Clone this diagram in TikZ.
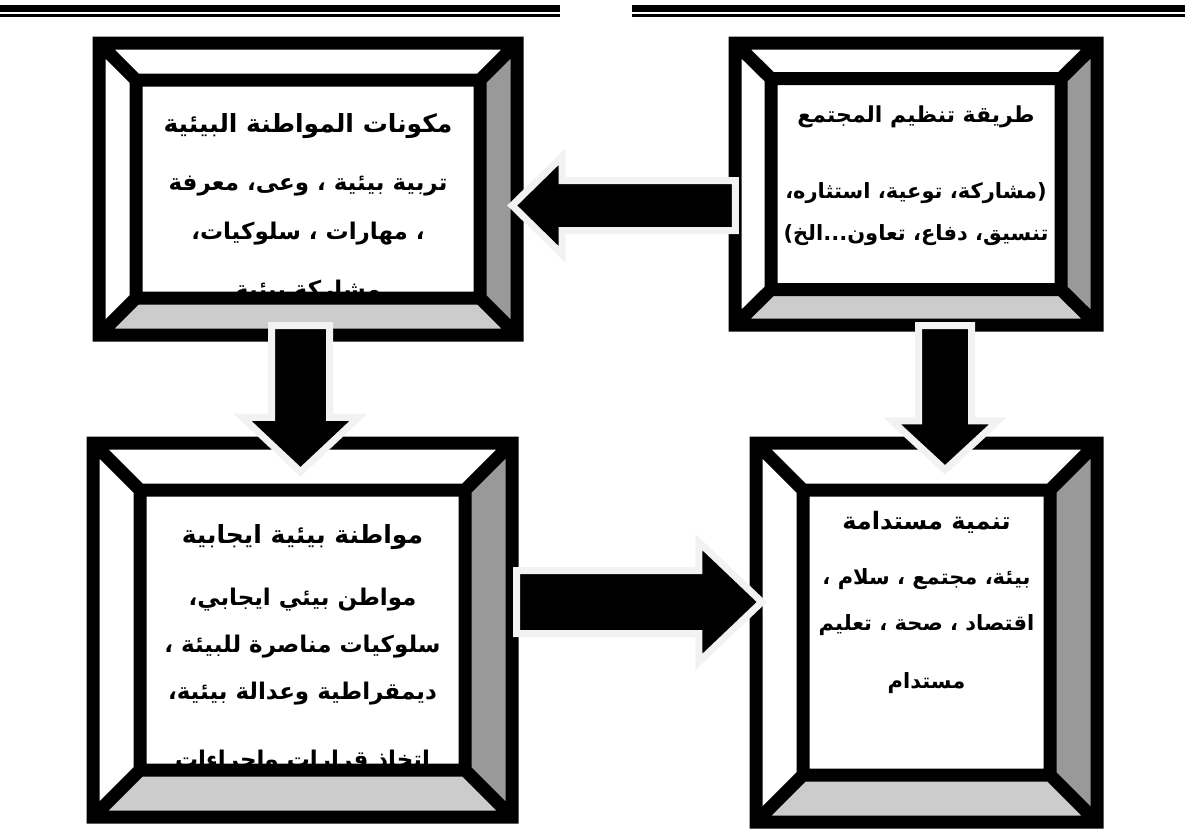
\documentclass[tikz,border=0pt]{standalone}
\usepackage{fontspec}
\newfontfamily\arabicfont[Script=Arabic]{DejaVu Sans}
\TeXXeTstate=1
\usetikzlibrary{calc,fit}

\tikzset{
  frameline/.style={line width=13pt, line join=miter},
  facetdark/.style={fill=black!40},
  facetpale/.style={fill=black!20},
  boxtext/.style 2 args={align=center, inner sep=0pt, anchor=north,
    font=\arabicfont\bfseries\fontsize{#1}{#2}\selectfont},
  arrowshadow/.style={fill=black!25, transform canvas={shift={(2pt,-2pt)}}},
  arrowbody/.style={fill=black, draw=black!5, line width=7pt, line join=miter},
  headrule/.style={line width=#1},
}

\newcommand{\heading}[2][25]{{\fontsize{#1}{#1}\selectfont\beginR #2\endR}}
\newcommand{\rl}[1]{\beginR #1\endR}

% bevelled frame: name, outer top left, outer bottom right, bevel x, bevel y
\newcommand{\bevelframe}[5]{%
  \coordinate (#1a) at (#2);
  \coordinate (#1b) at (#3);
  \coordinate (#1c) at ($(#1a)+(#4,#5)$);
  \coordinate (#1d) at ($(#1b)-(#4,#5)$);
  \fill[white] (#1a) rectangle (#1b);
  \fill[facetdark] (#1a -| #1b) -- (#1b) -- (#1d) -- (#1c -| #1d) -- cycle;
  \fill[facetpale] (#1a |- #1b) -- (#1b) -- (#1d) -- (#1c |- #1d) -- cycle;
  \draw[frameline] (#1a) rectangle (#1b) (#1c) rectangle (#1d)
    (#1a) -- (#1c) (#1b) -- (#1d) (#1a -| #1b) -- (#1c -| #1d) (#1a |- #1b) -- (#1c |- #1d);
  \node[fit=(#1a)(#1b), inner sep=0pt] (#1) {};
}

% block arrow: start, tip, shaft half width, head half width, head length
\newcommand{\blockarrow}[5]{%
  \coordinate (hb) at ($(#2)!#5!(#1)$);
  \foreach \kind in {arrowshadow,arrowbody}
    \path[style=\kind] ($(#1)!#3!90:(#2)$) -- ($(hb)!#3!90:(#2)$) -- ($(hb)!#4!90:(#2)$) -- (#2)
      -- ($(hb)!#4!-90:(#2)$) -- ($(hb)!#3!-90:(#2)$) -- ($(#1)!#3!-90:(#2)$) -- cycle;
}

\begin{document}
\begin{tikzpicture}[x=1pt, y=-1pt]
  \useasboundingbox (0,0) rectangle (1185,830);

  % rules at the top of the page
  \draw[headrule=6.5pt] (0,8.5) -- (560,8.5);
  \draw[headrule=2.5pt] (0,15.3) -- (560,15.3);
  \draw[headrule=6.5pt] (632,8.5) -- (1185,8.5);
  \draw[headrule=2.5pt] (632,15.3) -- (1185,15.3);

  % the four frames
  \bevelframe{tl}{99,43}{517,335}{37}{37}
  \bevelframe{tr}{735,43}{1097,325}{36}{35.5}
  \bevelframe{bl}{93,443}{512,817}{47}{47}
  \bevelframe{br}{756,443}{1097,822}{47}{47}

  \begin{scope}
    \clip (tlc) rectangle (tld);
    \node[boxtext={23}{49}] (tltext) at (308,113) {\heading{مكونات المواطنة البيئية}\\[9pt]
      \rl{تربية بيئية ،  وعى، معرفة}\\
      \rl{، مهارات ، سلوكيات،}\\[9pt]
      \rl{مشاركة بيئية}};
  \end{scope}
  \begin{scope}
    \clip (trc) rectangle (trd);
    \node[boxtext={21}{42.5}] (trtext) at (916,106) {\heading[22]{طريقة تنظيم المجتمع}\\[33pt]
      \rl{(مشاركة، توعية، استثاره،}\\
      \rl{تنسيق، دفاع، تعاون...الخ)}};
  \end{scope}
  \begin{scope}
    \clip (blc) rectangle (bld);
    \node[boxtext={23}{47}] (bltext) at (302.5,524) {\heading{مواطنة بيئية ايجابية}\\[15pt]
      \rl{مواطن بيئي ايجابي،}\\
      \rl{سلوكيات  مناصرة للبيئة ،}\\
      \rl{ديمقراطية وعدالة بيئية،}\\[21pt]
      \rl{اتخاذ قرارات واجراءات}};
  \end{scope}
  \begin{scope}
    \clip (brc) rectangle (brd);
    \node[boxtext={21}{46}] (brtext) at (926.5,511) {\heading[24]{تنمية مستدامة}\\[9pt]
      \rl{بيئة، مجتمع ، سلام ،}\\
      \rl{اقتصاد ، صحة ، تعليم}\\[12pt]
      \rl{مستدام}};
  \end{scope}

  % arrows between the frames
  \coordinate (trout) at ($(tr.west)+(0.5,21.5)$);
  \coordinate (tlin) at ($(tl.east)+(-5,16.5)$);
  \blockarrow{trout}{tlin}{25pt}{49pt}{50pt}
  \coordinate (tlout) at ($(tl.south)+(-7.5,-9.5)$);
  \coordinate (blin) at ($(bl.north)+(-2,29)$);
  \blockarrow{tlout}{blin}{29pt}{58pt}{54.5pt}
  \coordinate (trdown) at ($(tr.south)+(29,0.5)$);
  \coordinate (brin) at ($(br.north)+(18.5,27)$);
  \blockarrow{trdown}{brin}{26.5pt}{53pt}{49pt}
  \coordinate (blout) at ($(bl.east)+(4.5,-28)$);
  \coordinate (brleft) at ($(br.west)+(6,-30.5)$);
  \blockarrow{blout}{brleft}{31.5pt}{60pt}{63pt}
\end{tikzpicture}
\end{document}
